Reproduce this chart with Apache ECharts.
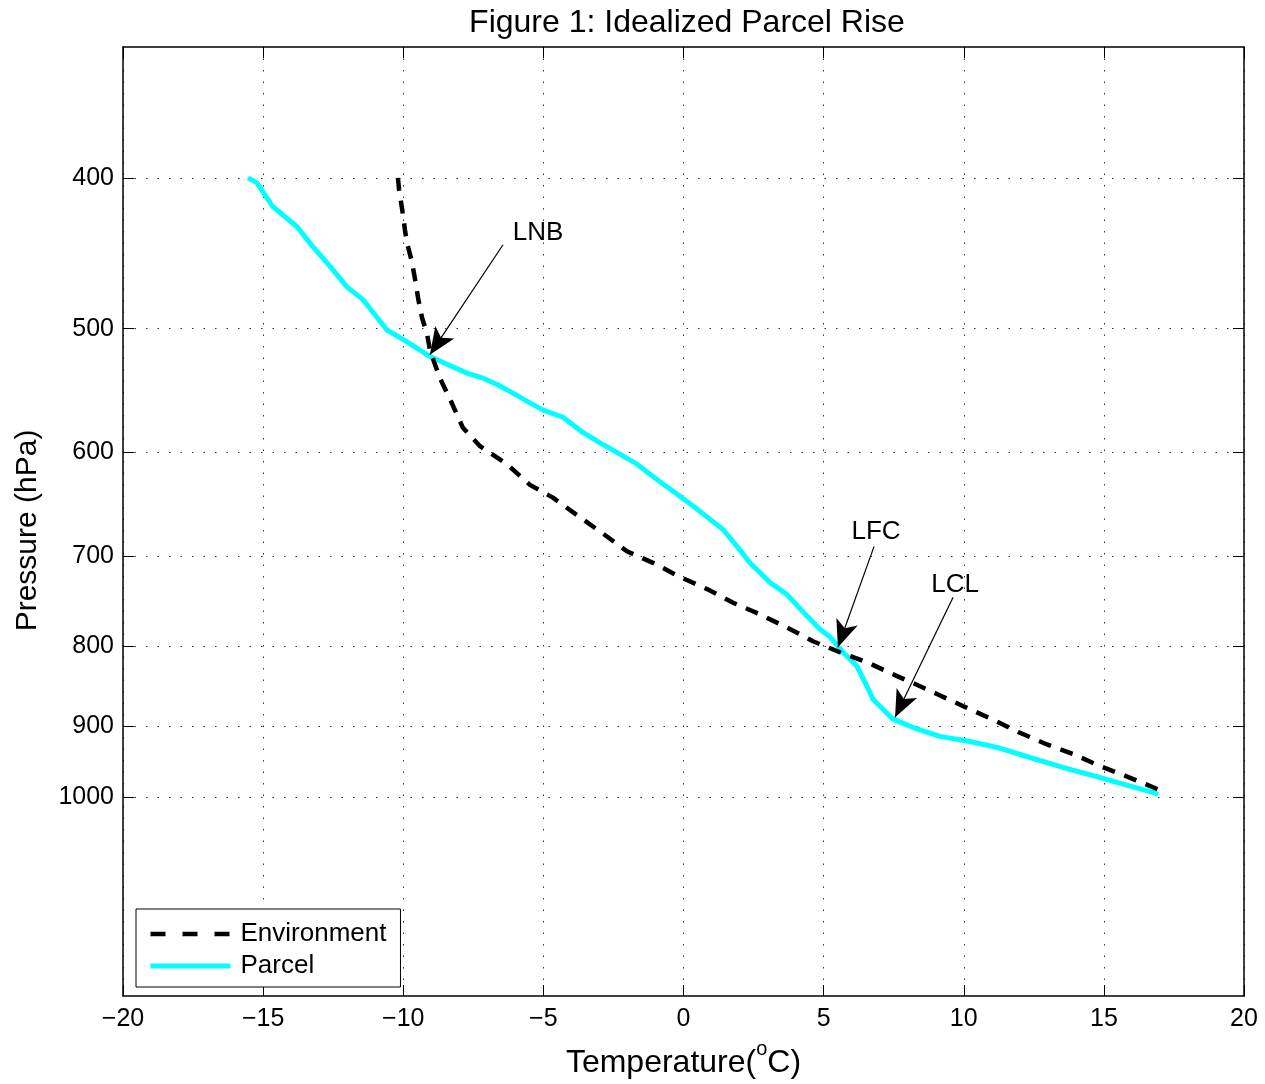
<!DOCTYPE html>
<html>
<head>
<meta charset="utf-8">
<title>Idealized Parcel Rise</title>
<script src="https://cdn.jsdelivr.net/npm/echarts@6/dist/echarts.min.js"></script>
<style>
  html, body { margin: 0; padding: 0; background: #fff; }
  #chart { width: 1265px; height: 1084px; }
</style>
</head>
<body>
<div id="chart"></div>
<script>
// parcel path (temperature in C, pressure in hPa)
const parcelT = [-15.54, -15.22, -14.65, -13.79, -13.22, -12.61, -12.01, -11.44, -11.08, -10.58,
  -10.01, -9.05, -8.44, -7.73, -7.15, -6.65, -6.08, -5.48, -5.01, -4.30,
  -3.59, -2.98, -2.27, -1.66, -0.95, -0.37, 0.34, 0.95, 1.41, 1.91,
  2.37, 3.09, 3.69, 4.41, 4.87, 5.23, 5.69, 6.19, 6.55, 6.76,
  7.48, 8.33, 9.15, 10.22, 11.19, 12.36, 13.54, 14.75, 15.68, 16.75, 16.93];
const parcelP = [400, 403, 417.5, 430, 443, 456, 470, 479, 488, 501,
  508, 521, 527, 534, 538, 543, 550, 558, 564, 570,
  583, 592, 602, 611, 625, 636, 650, 663, 673, 690,
  707, 728, 741, 765, 780, 789, 807, 824, 849, 865,
  891, 904, 914, 921, 929, 943, 957, 970, 981, 993, 996];

// environment sounding
const envT = [-10.19, -10.15, -10.04, -9.94, -9.87, -9.69, -9.55, -9.47, -9.33, -9.15,
  -9.05, -8.87, -8.69, -8.33, -7.87, -7.26, -6.30, -5.48, -4.66, -3.69,
  -2.73, -2.02, -1.09, -0.12, 0.84, 1.77, 2.73, 3.69, 4.62, 5.58,
  6.55, 7.62, 8.15, 9.08, 10.04, 11.01, 11.94, 12.97, 13.90, 14.86,
  15.83, 16.90, 17.11];
const envP = [400, 407, 419, 432, 440, 453, 468, 478, 492, 504,
  516, 527, 538, 555, 579, 595, 611, 630, 642, 661,
  680, 695, 707, 722, 735, 750, 763, 778, 794, 807,
  819, 836, 844, 859, 875, 891, 908, 925, 938, 955,
  970, 988, 991];

const pressureTicks = [400, 500, 600, 700, 800, 900, 1000];
const pressureRange = [329.6, 1342];

// annotations
const annotText = ['LNB', 'LFC', 'LCL'];
const annotT = [-5.19, 6.87, 9.69];
const annotP = [434, 675, 730];
const arrowFromT = [-6.44, 6.80, 9.62];
const arrowFromP = [441.6, 690, 744];
const arrowToT = [-9.05, 5.51, 7.55];
const arrowToP = [519.6, 801, 888.5];

const FONT = '"Liberation Sans", Helvetica, Arial, sans-serif';
const log = Math.log10;

const chart = echarts.init(document.getElementById('chart'));

const yTicks = pressureTicks.map(log);
const gridLine = {
  show: true,
  lineStyle: {color: '#333', width: 1, type: [1.5, 10]},
};
const boxLine = {show: true, onZero: false, lineStyle: {color: '#000', width: 1.5}};
const tick = {show: true, inside: true, length: 11, lineStyle: {color: '#000', width: 1}};

const option = {
  animation: false,
  backgroundColor: '#fff',
  graphic: [
    {
      type: 'text',
      x: 687,
      y: 23,
      style: {
        text: 'Figure 1: Idealized Parcel Rise',
        font: '32px ' + FONT,
        fill: '#000',
        align: 'center',
        verticalAlign: 'middle',
      },
    },
  ],
  grid: {left: 123, right: 21, top: 47, bottom: 87},
  legend: {
    data: [
      {name: 'Environment', lineStyle: {color: '#000', type: [15, 17], width: 4.5}},
      {name: 'Parcel', lineStyle: {color: '#00FFFF', type: 'solid', width: 5}},
    ],
    orient: 'vertical',
    left: 136,
    top: 909,
    padding: [11, 14, 7, 12],
    itemWidth: 80,
    itemHeight: 14,
    itemGap: 4,
    borderColor: '#000',
    borderWidth: 1,
    backgroundColor: '#fff',
    selectedMode: false,
    itemStyle: {opacity: 0, color: 'rgba(0,0,0,0)', borderWidth: 0},
    textStyle: {color: '#000', fontSize: 26, fontFamily: FONT, lineHeight: 28, padding: [0, 0, 0, 5]},
  },
  xAxis: [
    {
      type: 'value',
      min: -20,
      max: 20,
      interval: 5,
      position: 'bottom',
      axisLine: boxLine,
      axisTick: tick,
      axisLabel: {
        color: '#000',
        fontSize: 25,
        fontFamily: FONT,
        margin: 11,
        formatter: (v) => (v < 0 ? '\u2212' + -v : String(v)),
      },
      splitLine: gridLine,
      name: '{a|Temperature(}{s|o}{a|C)}',
      nameLocation: 'middle',
      nameGap: 47,
      nameTextStyle: {
        rich: {
          a: {fontSize: 32, fontFamily: FONT, color: '#000', verticalAlign: 'bottom', lineHeight: 36},
          s: {fontSize: 20, fontFamily: FONT, color: '#000', verticalAlign: 'bottom', lineHeight: 36, padding: [0, 0, 20, 0]},
        },
      },
    },
    {
      type: 'value',
      min: -20,
      max: 20,
      interval: 5,
      position: 'top',
      axisLine: boxLine,
      axisTick: tick,
      axisLabel: {show: false},
      splitLine: {show: false},
    },
  ],
  yAxis: [
    {
      type: 'value',
      inverse: true,
      min: log(pressureRange[0]),
      max: log(pressureRange[1]),
      position: 'left',
      axisLine: boxLine,
      axisTick: Object.assign({}, tick, {customValues: yTicks}),
      axisLabel: {
        customValues: yTicks,
        color: '#000',
        fontSize: 25,
        fontFamily: FONT,
        margin: 9,
        formatter: (v) => String(Math.round(Math.pow(10, v))),
      },
      splitLine: gridLine,
      name: 'Pressure (hPa)',
      nameLocation: 'middle',
      nameGap: 80,
      nameTextStyle: {fontSize: 30, fontFamily: FONT, color: '#000', padding: [0, 18, 0, 0]},
    },
    {
      type: 'value',
      inverse: true,
      min: log(pressureRange[0]),
      max: log(pressureRange[1]),
      position: 'right',
      axisLine: boxLine,
      axisTick: Object.assign({}, tick, {customValues: yTicks}),
      axisLabel: {show: false},
      splitLine: {show: false},
    },
  ],
  series: [
    {
      name: 'Parcel',
      type: 'line',
      symbol: 'none',
      z: 3,
      itemStyle: {color: '#00FFFF'},
      lineStyle: {color: '#00FFFF', width: 5},
      data: parcelT.map((t, i) => [t, log(parcelP[i])]),
    },
    {
      name: 'Environment',
      type: 'line',
      symbol: 'none',
      z: 4,
      itemStyle: {color: '#000'},
      lineStyle: {color: '#000', width: 4.5, type: [13, 10]},
      data: envT.map((t, i) => [t, log(envP[i])]),
    },
    {
      id: 'annot',
      name: 'annot',
      type: 'scatter',
      symbolSize: 1,
      z: 5,
      itemStyle: {color: 'rgba(0,0,0,0)', opacity: 1},
      label: {
        show: true,
        position: 'inside',
        color: '#000',
        opacity: 1,
        textBorderWidth: 0,
        fontSize: 26,
        fontFamily: FONT,
        formatter: (p) => p.name,
      },
      markLine: {
        silent: true,
        symbol: ['none', 'arrow'],
        symbolSize: [0, 22],
        lineStyle: {color: '#000', width: 1.2, type: 'solid', opacity: 1},
        label: {show: false},
        data: annotText.map((s, i) => [
          {coord: [arrowFromT[i], log(arrowFromP[i])], symbol: 'none'},
          {coord: [arrowToT[i], log(arrowToP[i])], symbol: 'arrow', symbolSize: [17, 27]},
        ]),
      },
      data: annotText.map((s, i) => ({name: s, value: [annotT[i], log(annotP[i])]})),
    },
  ],
};

chart.setOption(option);
</script>
</body>
</html>
